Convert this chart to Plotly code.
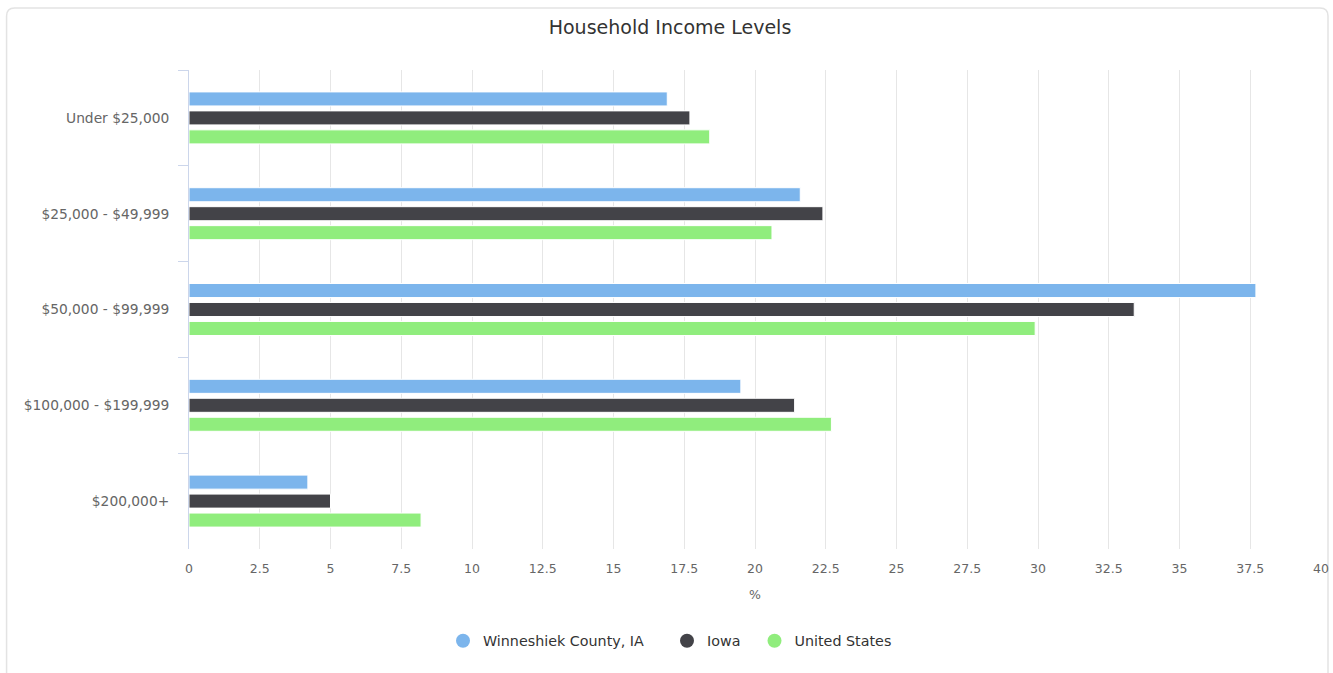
import plotly.graph_objects as go

categories = ["Under $25,000", "$25,000 - $49,999", "$50,000 - $99,999",
              "$100,000 - $199,999", "$200,000+"]
winneshiek = [16.9, 21.6, 37.7, 19.5, 4.2]
iowa = [17.7, 22.4, 33.4, 21.4, 5.0]
united_states = [18.4, 20.6, 29.9, 22.7, 8.2]

series = [
    ("Winneshiek County, IA", winneshiek, "#7cb5ec"),
    ("Iowa", iowa, "#434348"),
    ("United States", united_states, "#90ed7d"),
]
# extra spacing after legend labels
legend_pad = [4, 2, 0]

W, H = 1333, 673
L, R, T, B = 188.5, 1321, 70, 549

fig = go.Figure()
for name, vals, color in series:
    fig.add_trace(go.Bar(
        y=categories, x=vals, orientation="h", name=name,
        marker=dict(color=color, line=dict(color="white", width=1)),
        showlegend=False, hoverinfo="x+name",
    ))
# legend entries with round symbols
for (name, vals, color), pad in zip(series, legend_pad):
    fig.add_trace(go.Scatter(
        x=[None], y=[None], mode="markers", name=name + "\u00a0" * pad,
        marker=dict(color=color, size=14, symbol="circle"),
    ))

# rounded outer frame, pixel -> paper
def px(x):
    return (x - L) / (R - L)

def py(y):
    return (B - y) / (B - T)

r = 8
x0, x1, y0, y1 = 6, 1328, 8, 690
path = (f"M {px(x0)},{py(y1)} L {px(x0)},{py(y0 + r)} "
        f"Q {px(x0)},{py(y0)} {px(x0 + r)},{py(y0)} "
        f"L {px(x1 - r)},{py(y0)} "
        f"Q {px(x1)},{py(y0)} {px(x1)},{py(y0 + r)} "
        f"L {px(x1)},{py(y1)}")

fig.update_layout(
    width=W, height=H,
    margin=dict(l=L, r=W - R, t=T, b=H - B, pad=0),
    paper_bgcolor="white", plot_bgcolor="white",
    font=dict(family="DejaVu Sans", color="#666666", size=12),
    title=dict(text="Household Income Levels", x=670 / W, xanchor="center",
               y=1 - 27 / H, yanchor="middle",
               font=dict(size=19, color="#333333")),
    barmode="group", bargap=0.406, bargroupgap=0.26,
    showlegend=True,
    legend=dict(orientation="h", xref="container", yref="container",
                x=670 / W, xanchor="center", y=1 - 641 / H, yanchor="middle",
                font=dict(size=14.3, color="#333333"), itemwidth=30,
                tracegroupgap=0),
    shapes=[dict(type="path", path=path, xref="paper", yref="paper",
                 line=dict(color="#e3e3e3", width=1.5), layer="below")],
)
fig.update_xaxes(
    range=[0, 40], dtick=2.5, tick0=0, automargin=False,
    showgrid=True, gridcolor="#e6e6e6", gridwidth=1,
    zeroline=False, showline=False,
    ticks="outside", ticklen=8, tickcolor="rgba(0,0,0,0)",
    tickfont=dict(size=12.5, color="#666666"),
    title=dict(text="%", font=dict(size=12.5, color="#666666"), standoff=15),
)
fig.update_yaxes(
    autorange="reversed", showgrid=False, zeroline=False, automargin=False,
    showline=True, linecolor="#ccd6eb", linewidth=1,
    ticks="outside", ticklen=10, tickcolor="#ccd6eb", tickson="boundaries",
    ticklabelstandoff=16,
    tickfont=dict(size=13.8, color="#666666"),
)

fig.write_html("out.html", config={"displayModeBar": False},
               post_script="document.body.style.margin='0';")
